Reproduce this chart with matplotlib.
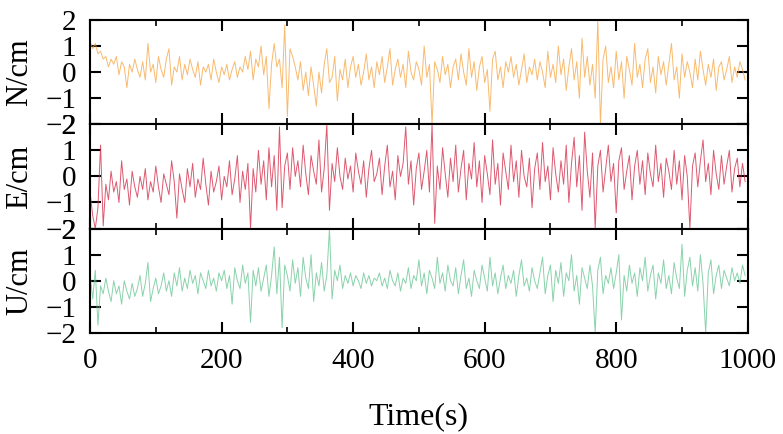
import numpy as np
import matplotlib.pyplot as plt
from matplotlib.ticker import MultipleLocator

t = list(range(0, 1000, 4))

N = [1.2, 0.9, 1.1, 0.7, 0.8, 0.5, 0.6, 0.2, 0.5, 0.3,
     0.6, -0.1, 0.4, 0.2, -0.6, 0.3, 0.0, 0.5, 0.1, -0.2,
     0.4, -0.3, 1.1, 0.0, 0.3, -0.4, 0.6, 0.1, -0.2, 0.5,
     0.9, -0.5, 0.2, 0.0, 0.6, -0.3, 0.3, -0.1, 0.5, 0.1,
     -0.2, 0.4, -0.5, 0.2, 0.0, 0.3, -0.3, 0.5, 0.0, -0.4,
     0.2, -0.1, 0.3, -0.3, 0.1, 0.4, -0.2, 0.2, 0.0, 0.6,
     0.1, 0.8, -0.3, 0.5, 0.2, 1.0, -0.1, 0.6, -1.4, 0.3,
     1.1, 0.2, 0.5, -0.6, 1.8, -1.7, 0.9, 0.6, 0.2, -0.3,
     0.4, -0.7, 0.0, -0.9, 0.2, -0.5, -1.3, 0.0, -0.8, 0.3,
     0.9, -0.4, -0.2, 0.6, -1.1, 0.1, -0.3, 0.5, -0.6, 0.2,
     0.6, -0.2, 0.3, -0.5, 0.0, 0.7, -0.3, 0.2, -0.6, 0.4,
     -0.1, 0.6, -0.4, 0.2, 0.9, -0.5, 0.1, 0.5, -0.2, 0.3,
     -0.6, 0.8, 0.0, -0.3, 0.4, 0.1, -0.5, 1.0, -0.2, 0.3,
     -2.0, 0.4, 0.1, -0.4, 0.6, -0.1, 0.3, -0.6, 0.2, 0.5,
     -0.3, 0.7, 0.0, -0.5, 0.9, -0.2, 0.4, -0.7, 0.2, 0.6,
     -0.4, 0.1, -1.5, 0.5, 0.8, -0.3, 0.2, -0.6, 0.4, 0.0,
     0.6, -0.2, 0.3, -0.5, 0.1, 0.7, -0.4, 0.2, -0.1, 0.5,
     -0.3, 0.4, 0.0, -0.6, 0.8, -0.2, 0.3, -0.4, 1.0, -0.1,
     0.5, -0.7, 0.2, 0.9, -0.3, 0.4, -1.0, 1.3, -0.2, 0.6,
     -0.5, 0.3, -1.0, 2.0, -2.0, 0.5, 1.0, -0.4, 0.2, -0.6,
     0.8, -0.3, 0.4, -1.0, 0.6, 0.1, -0.5, 1.1, -0.2, 0.3,
     -0.6, 0.5, 0.9, -0.4, 0.2, -0.8, 0.6, -0.1, 0.4, -0.5,
     0.3, 1.1, -0.3, 0.2, -1.0, 0.7, -0.2, 0.4, 0.0, -0.6,
     0.5, -0.3, 0.8, 0.1, -0.5, 0.3, -0.2, 0.5, -0.7, 0.2,
     0.4, -0.3, 0.1, 0.6, -0.4, 0.2, -0.2, 0.4, 0.1, -0.3]

E = [-0.6, -1.5, -2.0, -1.2, 1.2, -1.9, -0.3, -0.9, 0.2, -0.6,
     -0.2, -1.0, 0.6, -0.5, -0.1, -1.1, 0.2, -0.4, -0.8, 0.0,
     -0.5, 0.3, -0.9, -0.2, -0.6, 0.4, -0.4, -1.0, 0.1, -0.3,
     -0.7, 0.6, -0.2, -1.6, 0.1, -0.5, -1.0, 0.3, -0.4, 0.5,
     -0.8, -0.1, -0.5, 0.7, -0.3, -1.1, 0.2, -0.6, -0.2, 0.4,
     -0.9, 0.0, -0.4, 0.6, -0.7, -0.1, 0.8, -1.0, 0.2, -0.5,
     0.5, -2.0, 0.3, -0.6, 1.0, -0.3, 0.6, -0.9, 1.1, -0.4,
     0.8, -1.3, 1.9, -1.2, 0.4, 0.9, -0.5, 1.1, 0.0, 0.6,
     -0.4, 1.2, 0.1, -0.7, 0.8, 0.2, -0.3, 1.4, -0.6, 0.3,
     2.0, -1.3, 0.5, -0.2, 1.1, 0.0, -0.5, 0.7, -0.1, 0.4,
     -0.6, 0.9, 0.2, -0.3, 0.6, -0.8, 0.3, 1.0, -0.2, 0.1,
     0.7, -0.7, 0.4, 1.2, -0.4, 0.2, -0.9, 0.8, 0.0, 0.5,
     1.9, -0.3, 0.6, -1.1, 0.3, 0.9, -0.5, 0.2, 1.0, -0.6,
     2.0, -1.8, 0.4, -0.5, 1.1, 0.1, -0.8, 0.7, -0.2, 1.2,
     -0.6, 0.3, 1.0, -0.9, 0.5, -0.1, 1.3, -0.4, 0.6, -1.0,
     0.8, 0.1, -0.7, 1.4, -0.3, 0.5, -1.1, 0.9, 0.2, -0.5,
     1.2, -0.2, 0.6, -0.8, 1.0, 0.0, -0.4, 0.7, -1.2, 0.3,
     0.9, -0.5, 1.3, -0.2, 0.4, -0.9, 1.1, 0.1, -0.6, 0.6,
     -0.3, 1.2, -1.0, 0.5, 1.5, -0.4, 0.8, -1.3, 1.7, 0.2,
     -0.8, 0.9, -2.0, 0.4, 1.0, -0.6, 0.3, 1.2, -0.2, 0.5,
     -1.4, 0.6, 1.1, -0.5, 0.2, 0.8, -0.9, 0.4, 1.0, -0.3,
     0.6, -0.7, 0.9, 0.1, -0.4, 1.2, -0.2, 0.5, -0.8, 0.7,
     0.2, -0.5, 1.0, -0.3, 0.6, -0.9, 0.8, 0.0, -2.0, 0.4,
     0.9, -0.4, 0.6, 1.4, -0.2, 0.5, -0.7, 1.0, 0.1, -0.5,
     0.8, -0.3, 0.4, 1.0, -0.6, 0.3, 0.7, -0.4, 0.5, -0.2]

U = [0.3, -0.7, 0.4, -1.7, -0.2, -0.5, 0.1, -0.4, -0.8, 0.0,
     -0.5, -0.2, -0.9, 0.0, -0.4, -0.7, -0.1, -0.6, -0.3, 0.2,
     -0.6, -0.1, 0.7, -0.8, -0.3, 0.1, -0.5, -0.2, 0.3, -0.4,
     0.0, -0.6, 0.3, -0.2, 0.5, -0.4, 0.1, -0.3, 0.4, -0.1,
     0.2, -0.5, 0.3, 0.0, -0.3, 0.4, -0.2, 0.1, -0.4, 0.3,
     0.0, 0.4, -0.3, 0.2, -0.9, 0.5, 0.0, -0.3, 0.6, -0.1,
     0.3, -1.6, 0.4, -0.2, 0.5, -0.4, 0.1, 0.6, -0.6, 0.2,
     1.3, -0.5, 0.9, -1.8, 0.6, 0.2, -0.4, 0.8, -0.1, 0.5,
     -0.6, 0.9, 0.1, -0.3, 1.0, -0.8, 0.3, -0.2, 0.7, -0.4,
     0.2, 2.0, -0.7, 0.4, 0.0, 0.6, -0.3, 0.2, -0.1, 0.3,
     -0.2, 0.2, 0.0, -0.3, 0.3, -0.1, 0.2, -0.2, 0.1, 0.0,
     0.3, -0.2, 0.1, -0.3, 0.4, 0.0, -0.2, 0.3, -0.4, 0.1,
     -0.1, 0.5, -0.3, 0.2, 0.0, 0.8, -0.2, 0.3, -0.5, 0.4,
     0.1, -0.3, 0.9, -0.1, 0.3, -0.4, 0.6, 0.0, -0.2, 0.5,
     -0.5, 0.2, 0.8, -0.3, 0.1, -0.6, 0.4, 0.0, -0.3, 0.6,
     0.1, -0.4, 0.9, -0.2, 0.3, -0.5, 0.1, 0.6, -0.3, 0.2,
     -0.1, 0.4, -0.6, 0.2, 0.8, -0.2, 0.1, -0.4, 0.5, 0.0,
     -0.3, 0.3, 0.9, -0.5, 0.2, 0.6, -0.8, 0.4, -0.1, 0.7,
     -0.6, 0.3, 0.0, 1.0, -0.4, 0.2, -0.9, 0.5, 0.1, -0.3,
     0.6, -0.2, -2.0, 0.4, 0.9, -0.5, 0.2, -0.1, 0.5, -0.3,
     0.3, 1.0, -1.5, 0.2, -0.4, 0.6, -0.1, 0.3, -0.6, 0.5,
     0.0, 0.9, -0.4, 0.2, 0.6, -0.7, 0.3, -0.1, 0.8, -0.3,
     0.2, -0.5, 0.7, 0.1, -0.3, 1.4, -0.6, 0.4, 0.9, -0.2,
     0.5, -0.4, 1.0, -0.1, -2.0, 0.3, 0.8, -0.5, 0.2, 0.6,
     -0.3, 0.4, 0.1, -0.2, 0.5, 0.0, 0.3, -0.1, 0.6, 0.2]

series = [N, E, U]
labels = ["N/cm", "E/cm", "U/cm"]
colors = ["#F7A94A", "#D62F4C", "#6CC796"]

plt.rcParams['font.family'] = ['Liberation Serif', 'DejaVu Serif']

fig, axes = plt.subplots(3, 1, figsize=(7.83, 4.34), dpi=100, sharex=True)
fig.subplots_adjust(left=0.115, right=0.955, top=0.954, bottom=0.233, hspace=0)

for ax, y, lab, c in zip(axes, series, labels, colors):
    ax.plot(t, y, color=c, lw=0.7, alpha=0.8)
    ax.set_xlim(0, 1000)
    ax.set_ylim(-2, 2)
    ax.set_yticks([-2, -1, 0, 1, 2])
    ax.set_ylabel(lab, fontsize=22, labelpad=8)
    ax.xaxis.set_major_locator(MultipleLocator(200))
    ax.xaxis.set_minor_locator(MultipleLocator(100))
    ax.tick_params(direction="in", top=True, right=True, which="major",
                   length=8, width=1.5, labelsize=21)
    ax.tick_params(axis="x", which="major", pad=11)
    ax.tick_params(axis="y", which="major", pad=10)
    ax.tick_params(direction="in", top=True, which="minor", length=4, width=1.2)
    for s in ax.spines.values():
        s.set_linewidth(1.5)

axes[2].set_xlabel("Time(s)", fontsize=23, labelpad=20)
fig.savefig("out.png", dpi=100)
